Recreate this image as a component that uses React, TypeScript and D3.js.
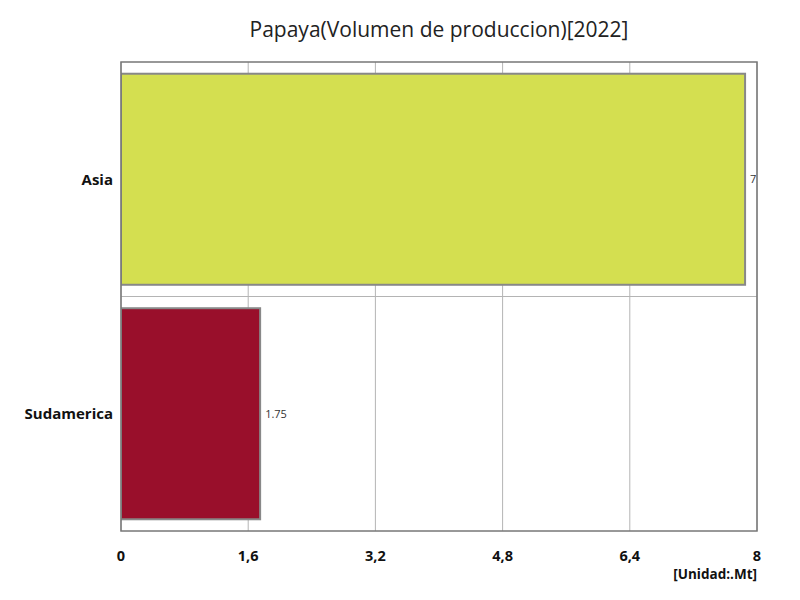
import React from "react";
import * as d3 from "d3";

const categories = ["Asia", "Sudamerica"];
const values = [7.85, 1.75];
const colors = ["#d4df50", "#990f2b"];
const tickValues = [0, 1.6, 3.2, 4.8, 6.4, 8];
const title = "Papaya(Volumen de produccion)[2022]";
const unitLabel = "[Unidad:.Mt]";

export default function App() {
  const W = 800, H = 600;
  const left = 121, right = 757, top = 62, bottom = 531;
  const x = d3.scaleLinear().domain([0, 8]).range([left, right]);
  const y = d3.scaleBand<string>().domain(categories).range([top, bottom]).paddingInner(0.1).paddingOuter(0.05);
  const yGrid = d3.scaleBand<string>().domain(categories).range([top, bottom]);
  const font = "'Open Sans', 'Noto Sans', sans-serif";
  const fmtTick = (v: number) => String(v).replace(".", ",");
  return (
    <svg width={W} height={H} style={{ position: "absolute", left: 0, top: 0, background: "#fff" }} fontFamily={font}>
      <defs>
        <clipPath id="plotclip">
          <rect x={left} y={top} width={right - left} height={bottom - top} />
        </clipPath>
      </defs>
      <text x={(left + right) / 2} y={37} textAnchor="middle" fontSize={21} fill="#222">{title}</text>
      {tickValues.map((t) => (
        <line key={"g" + t} x1={x(t)} x2={x(t)} y1={top} y2={bottom} stroke="#b4b4b4" strokeWidth={1} />
      ))}
      {categories.slice(1).map((c) => (
        <line key={"h" + c} x1={left} x2={right} y1={yGrid(c)!} y2={yGrid(c)!} stroke="#b4b4b4" strokeWidth={1} />
      ))}
      <g clipPath="url(#plotclip)">
        {categories.map((c, i) => (
          <g key={c}>
            <rect x={x(0)} y={y(c)!} width={x(values[i]) - x(0)} height={y.bandwidth()} fill={colors[i]} stroke="#888" strokeWidth={2} />
            <text x={x(values[i]) + 5} y={y(c)! + y.bandwidth() / 2} dy="0.35em" fontSize={11} fill="#333">{String(values[i])}</text>
          </g>
        ))}
      </g>
      <rect x={left} y={top} width={right - left} height={bottom - top} fill="none" stroke="#777" strokeWidth={1.5} />
      {categories.map((c) => (
        <text key={"l" + c} x={left - 8} y={y(c)! + y.bandwidth() / 2} dy="0.35em" textAnchor="end" fontSize={15} fontWeight="bold" fill="#111">{c}</text>
      ))}
      {tickValues.map((t) => (
        <text key={"t" + t} x={x(t)} y={561} textAnchor="middle" fontSize={14.5} fontWeight="bold" fill="#111">{fmtTick(t)}</text>
      ))}
      <text x={right} y={579} textAnchor="end" fontSize={13.5} fontWeight="bold" fill="#111">{unitLabel}</text>
    </svg>
  );
}
